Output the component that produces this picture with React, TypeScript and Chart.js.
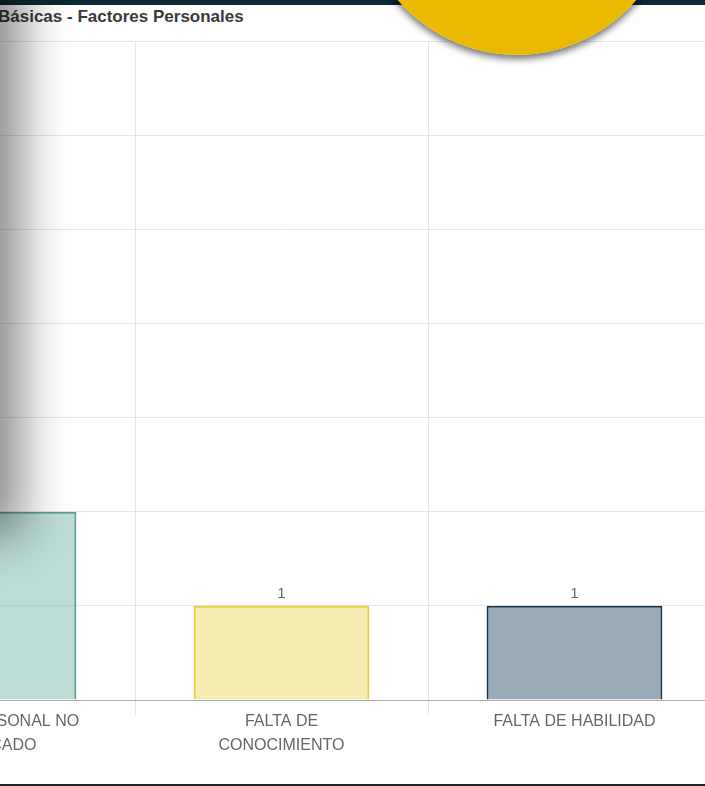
import { useEffect, useRef } from 'react'
import Chart from 'chart.js/auto'

// chart data (first category is cut off on the left in the reference)
const categories: string[][] = [
  ['USO DE PERSONAL NO', 'CALIFICADO'],
  ['FALTA DE', 'CONOCIMIENTO'],
  ['FALTA DE HABILIDAD'],
]
const counts = [2, 1, 1]
const fillColors = ['rgba(122, 186, 171, 0.5)', 'rgba(236, 210, 80, 0.45)', '#9aacb8']
const borderColors = ['#5e9f8a', '#e6cf3c', '#14324a']
const yMax = 7

const FONT = '"Liberation Sans", Arial, Helvetica, sans-serif'

// draws the value above each bar
const valueLabels = {
  id: 'valueLabels',
  afterDatasetsDraw(chart: Chart) {
    const { ctx } = chart
    const meta = chart.getDatasetMeta(0)
    ctx.save()
    ctx.font = `15px ${FONT}`
    ctx.fillStyle = '#666'
    ctx.textAlign = 'center'
    ctx.textBaseline = 'middle'
    meta.data.forEach((el: any, i: number) => {
      ctx.fillText(String(counts[i]), el.x, el.y - 12)
    })
    ctx.restore()
  },
}

function FactorsChart() {
  const chartRef = useRef<HTMLCanvasElement>(null)
  const chartInstance = useRef<Chart | null>(null)

  useEffect(() => {
    if (!chartRef.current) return
    if (chartInstance.current) chartInstance.current.destroy()

    chartInstance.current = new Chart(chartRef.current, {
      type: 'bar',
      data: {
        labels: categories,
        datasets: [
          {
            data: counts,
            backgroundColor: fillColors,
            borderColor: borderColors,
            borderWidth: 2,
            barPercentage: 0.75,
            categoryPercentage: 0.8,
          },
        ],
      },
      options: {
        animation: false,
        responsive: true,
        maintainAspectRatio: false,
        layout: { padding: { top: 10, left: 0, right: 0, bottom: 0 } },
        plugins: {
          legend: { display: false },
          tooltip: { enabled: false },
        },
        scales: {
          x: {
            grid: { color: '#e6e6e6', tickLength: 15 },
            border: { color: '#adadad' },
            ticks: {
              color: '#666',
              padding: -6,
              maxRotation: 0,
              autoSkip: false,
              font: { family: FONT, size: 16, lineHeight: 1.53 },
            },
            afterFit: (scale: any) => {
              scale.height = 70
            },
          },
          y: {
            min: 0,
            max: yMax,
            ticks: { stepSize: 1, display: false },
            grid: { color: '#e6e6e6', drawTicks: false },
            border: { display: false },
            afterFit: (scale: any) => {
              scale.width = 0
            },
          },
        },
      },
      plugins: [valueLabels],
    })

    return () => {
      if (chartInstance.current) {
        chartInstance.current.destroy()
        chartInstance.current = null
      }
    }
  }, [])

  return (
    <div style={{ position: 'absolute', left: -158, top: 31, width: 879, height: 739 }}>
      <canvas ref={chartRef} />
    </div>
  )
}

export default function App() {
  return (
    <div
      style={{
        position: 'absolute',
        left: 0,
        top: 0,
        width: 705,
        height: 786,
        overflow: 'hidden',
        background: '#fff',
      }}
    >
      <FactorsChart />
      <div style={{ position: 'absolute', left: 0, top: 0, width: 705, height: 5, background: '#0e2934' }} />
      <div
        style={{
          position: 'absolute',
          left: -2,
          top: 7,
          font: `bold 17px ${FONT}`,
          lineHeight: '19px',
          color: '#3a3a3a',
          whiteSpace: 'nowrap',
        }}
      >
        Básicas - Factores Personales
      </div>
      {/* shadow thrown by a panel off the left edge */}
      <div
        style={{
          position: 'absolute',
          left: -200,
          top: -60,
          width: 200,
          height: 587,
          background: '#fff',
          boxShadow: '22px 8px 44px rgba(0,0,0,0.45)',
        }}
      />
      {/* yellow badge at the top */}
      <div
        style={{
          position: 'absolute',
          left: 360,
          top: -259,
          width: 314,
          height: 314,
          borderRadius: '50%',
          background: 'linear-gradient(#f3c300, #e9b800)',
          boxShadow: '0 4px 7px rgba(0,0,0,0.55)',
        }}
      />
      <div style={{ position: 'absolute', left: 0, top: 784, width: 705, height: 2, background: '#1e2428' }} />
    </div>
  )
}
